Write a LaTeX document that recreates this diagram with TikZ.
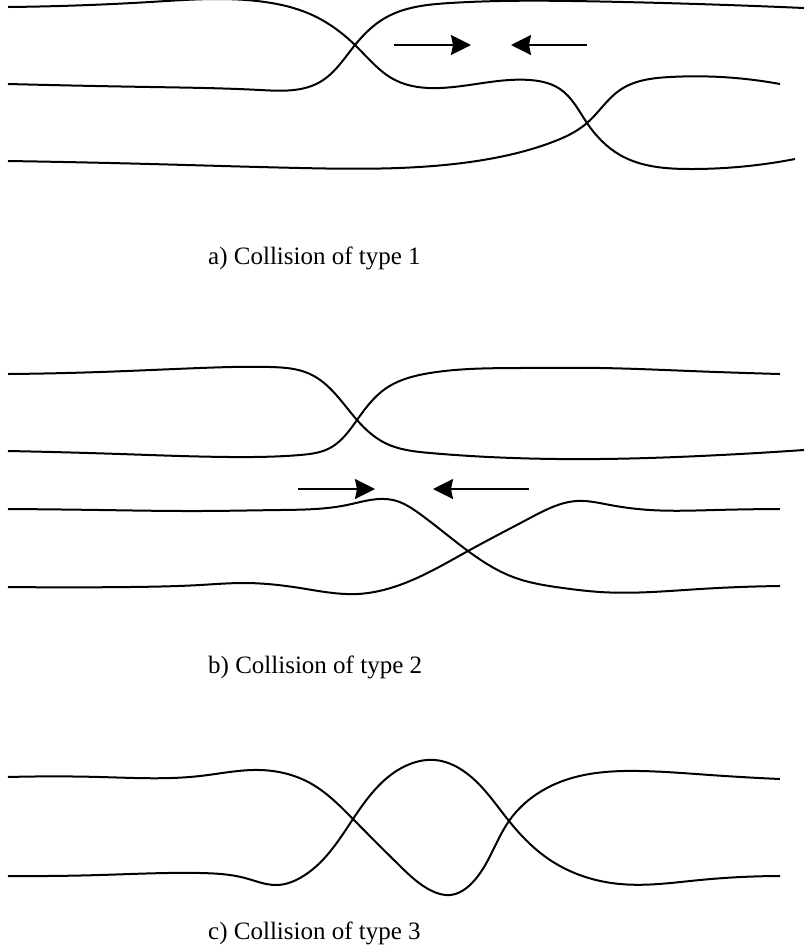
\documentclass[tikz,border=0pt]{standalone}
\usepackage{fontspec}
\setmainfont{Liberation Serif}
\usepackage{tikz}
\usetikzlibrary{arrows.meta,hobby}

\begin{document}
\begin{tikzpicture}[
x=1pt, y=-1pt,
strand/.style={line width=2pt, use Hobby shortcut},
pusharrow/.style={line width=2pt, -{Stealth[length=20pt, width=20pt, inset=2pt]}},
caption/.style={anchor=base west, inner sep=0pt, font=\fontsize{25}{30}\selectfont},
]
\useasboundingbox (0,0) rectangle (804,951);

%Curves a)
\draw[strand] (8,7) .. (150,2) .. (265,2) .. (310,14) .. (355,45) .. (395,80) .. (440,88) .. (530,80) .. (560,89) .. (587,123) .. (620,155) .. (690,169) .. (795,159);
\draw[strand] (8,84) .. (150,87) .. (260,90) .. (320,82) .. (355,45) .. (385,18) .. (450,3) .. (600,1.5) .. (804,8);
\draw[strand] (8,161) .. (150,164) .. (300,168) .. (470,162) .. (550,143) .. (587,123) .. (620,90) .. (670,77) .. (780,84);

%Curves b)
\draw[strand] (8,374) .. (100,372) .. (200,368) .. (270,367) .. (310,374) .. (357,420) .. (385,443) .. (430,453) .. (513,458) .. (600,459) .. (700,456) .. (804,450);
\draw[strand] (8,451) .. (120,454) .. (230,457) .. (300,455) .. (330,448) .. (357,420) .. (385,389) .. (430,373) .. (520,368) .. (600,368) .. (690,371) .. (780,374);
\draw[strand] (8,509) .. (100,510) .. (200,511) .. (280,510) .. (347,505) .. (393,500) .. (420,514) .. (468,551) .. (513,577) .. (563,588) .. (600,592) .. (700,589) .. (780,586);
\draw[strand] (8,587) .. (130,587) .. (200,585) .. (245,583) .. (300,588) .. (357,594) .. (410,581) .. (468,551) .. (530,518) .. (577,501) .. (610,505) .. (650,510) .. (715,510) .. (780,509);

%Curves c)
\draw[strand] (8,777) .. (100,777) .. (200,776) .. (260,770) .. (310,783) .. (353,819) .. (400,866) .. (432,891) .. (450,895) .. (472,883) .. (509,821) .. (560,782) .. (640,771) .. (710,775) .. (780,779);
\draw[strand] (8,876) .. (100,875) .. (200,873) .. (245,878) .. (277,885) .. (300,878) .. (353,819) .. (410,764) .. (435,760) .. (462,770) .. (509,821) .. (550,860) .. (620,884) .. (700,880) .. (780,876);

%Arrows
\coordinate (aLtail) at (394,45);
\coordinate (aLtip)  at (471,45);
\coordinate (aRtail) at (587,45);
\coordinate (aRtip)  at (511,45);
\coordinate (bLtail) at (298,489);
\coordinate (bLtip)  at (375,489);
\coordinate (bRtail) at (529,489);
\coordinate (bRtip)  at (433,489);
\draw[pusharrow] (aLtail) -- (aLtip);
\draw[pusharrow] (aRtail) -- (aRtip);
\draw[pusharrow] (bLtail) -- (bLtip);
\draw[pusharrow] (bRtail) -- (bRtip);

%Labels
\node[caption] (capa) at (208,264) {a) Collision of type 1};
\node[caption] (capb) at (208,673) {b) Collision of type 2};
\node[caption] (capc) at (208,939) {c) Collision of type 3};
\end{tikzpicture}
\end{document}
